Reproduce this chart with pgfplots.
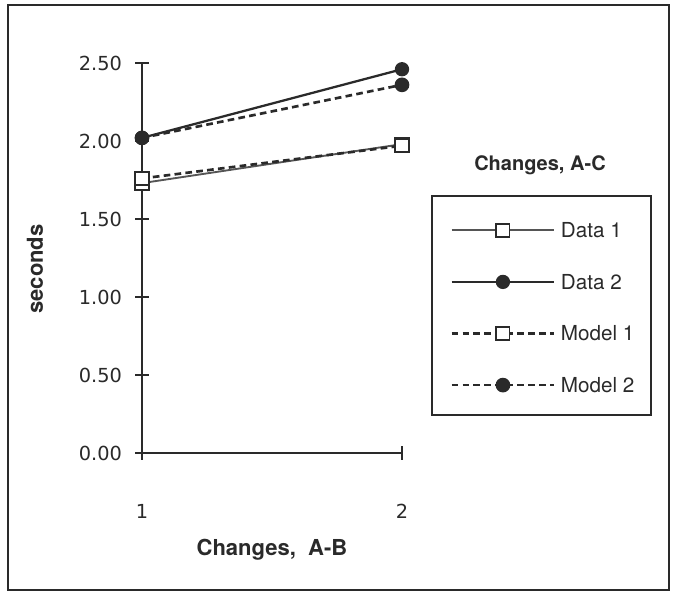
\documentclass[border=0pt]{standalone}
\usepackage{pgfplots}
\pgfplotsset{compat=1.18}
\usepackage{fontspec}
\setmainfont{TeX Gyre Heros}
\newfontfamily\tickfont{DejaVu Sans}

\definecolor{ink}{HTML}{2A2A2A}
\definecolor{datagray}{HTML}{555555}

\begin{document}
\begin{tikzpicture}
% page = 676x596 px at 0.75pt per px
\useasboundingbox (0pt,0pt) rectangle (507pt,-447pt);
\draw[ink, line width=1.5pt] (6pt,-3.75pt) rectangle (501.75pt,-442.5pt);

\begin{axis}[
    at={(106.5pt,-339.75pt)}, anchor=south west,
    scale only axis,
    width=195pt, height=292.5pt,
    xmin=1, xmax=2, ymin=0, ymax=2.5,
    axis lines*=left,
    axis line style={ink, line width=1.6pt},
    xtick={1,2}, ytick={0,0.5,1,1.5,2,2.5},
    tick align=center,
    major tick length=10pt,
    tick style={ink, line width=1.3pt},
    /pgf/number format/assume math mode=true,
    yticklabel={\pgfmathprintnumber[fixed,fixed zerofill,precision=2]{\tick}},
    ticklabel style={font=\tickfont\fontsize{14.5}{16}\selectfont, ink},
    xticklabel style={yshift=-30pt},
    yticklabel style={xshift=-6.5pt},
    xlabel={Changes,\ \ A-B},
    ylabel={seconds},
    label style={font=\bfseries\fontsize{16.5}{18}\selectfont, ink},
    xlabel style={at={(axis description cs:0.5,-0.2487)}, anchor=center},
    ylabel style={at={(axis description cs:-0.4115,0.4718)}, anchor=center},
    clip=false,
    legend image code/.code={
        \draw[mark repeat=2,mark phase=2] plot coordinates {(0pt,5.5pt) (38.5pt,5.5pt) (77pt,5.5pt)};
    },
    legend style={at={(1.1846,0.5905)}, anchor=north west,
        draw=none, fill=none, inner sep=0pt,
        row sep=24.7pt, column sep=4pt,
        nodes={inner sep=0pt, text height=11pt, text depth=3pt, anchor=base west,
               font=\fontsize{15.5}{17}\selectfont, ink}},
    legend cell align=left,
]
\addplot[datagray, line width=1.4pt, mark=square*, mark size=5pt,
    mark options={solid, fill=white, draw=ink, line width=1.3pt}]
    coordinates {(1,1.73) (2,1.98)};
\addlegendentry{Data 1}
\addplot[ink, line width=1.7pt, mark=*, mark size=4.5pt,
    mark options={solid, fill=ink, draw=ink}]
    coordinates {(1,2.02) (2,2.46)};
\addlegendentry{Data 2}
\addplot[ink, line width=2pt, dash pattern=on 5pt off 3.2pt, mark=square*, mark size=5pt,
    mark options={solid, fill=white, draw=ink, line width=1.3pt}]
    coordinates {(1,1.76) (2,1.97)};
\addlegendentry{Model 1}
\addplot[ink, line width=2pt, dash pattern=on 5pt off 3.2pt, mark=*, mark size=4.5pt,
    mark options={solid, fill=ink, draw=ink}]
    coordinates {(1,2.02) (2,2.36)};
\addlegendentry{Model 2}
\end{axis}

% legend frame and title
\draw[ink, line width=1.5pt] (324pt,-147pt) rectangle (488.25pt,-311.25pt);
\node[ink, font=\bfseries\fontsize{15}{17}\selectfont] at (405pt,-123.75pt) {Changes, A-C};
\end{tikzpicture}
\end{document}
